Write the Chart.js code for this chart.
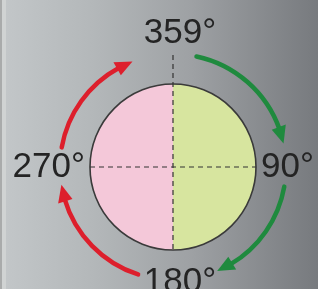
<!DOCTYPE html>
<html>
<head>
<meta charset="utf-8">
<script src="https://cdn.jsdelivr.net/npm/chart.js@4"></script>
<style>
  html, body { margin: 0; padding: 0; background: #a4a6a8; }
  #wrap { width: 318px; height: 289px; position: relative; }
</style>
</head>
<body>
<div id="wrap"><canvas id="dial" width="318" height="289"></canvas></div>
<script>
// Two halves of the dial, clockwise from the top
const halfLabels = ['0°–180°', '180°–359°'];
const halfValues = [180, 180];
const halfColors = ['#d7e59f', '#f4c8d9'];

// Bearings written round the dial
const bearingLabels = ['359°', '90°', '180°', '270°'];
const bearingAngles = [0, 90, 180, 270];

// Clockwise arrows, as bearing ranges [from, to]
const greenArrows = [[12, 78], [100, 157]];
const redArrows = [[198, 261], [280, 339]];

function toCanvasAngle(bearing) {
  return (bearing - 90) * Math.PI / 180;
}

const dialPlugin = {
  id: 'dial',
  beforeDraw(chart) {
    const { ctx, width, height } = chart;
    const g = ctx.createLinearGradient(0, 0, width, 0);
    g.addColorStop(0, '#c3c7c9');
    g.addColorStop(0.3, '#b3b7b9');
    g.addColorStop(0.6, '#9ea1a4');
    g.addColorStop(1, '#777a7e');
    ctx.save();
    ctx.fillStyle = g;
    ctx.fillRect(0, 0, width, height);
    // pale strip on the left edge
    ctx.fillStyle = '#a9abab';
    ctx.fillRect(0, 0, 2, height);
    ctx.fillStyle = '#d0d3d3';
    ctx.fillRect(2, 0, 4, height);
    ctx.restore();
  },
  afterDatasetsDraw(chart) {
    const { ctx } = chart;
    const arc = chart.getDatasetMeta(0).data[0];
    const cx = arc.x, cy = arc.y, r = arc.outerRadius;

    ctx.save();
    // outline
    ctx.beginPath();
    ctx.arc(cx, cy, r, 0, Math.PI * 2);
    ctx.strokeStyle = '#3a3a3a';
    ctx.lineWidth = 1.6;
    ctx.stroke();

    // dashed cross
    ctx.setLineDash([5, 4]);
    ctx.lineWidth = 1.2;
    ctx.strokeStyle = '#333';
    ctx.beginPath();
    ctx.moveTo(cx, cy - r - 29);
    ctx.lineTo(cx, cy + r);
    ctx.moveTo(cx - r, cy);
    ctx.lineTo(cx + r, cy);
    ctx.stroke();
    ctx.setLineDash([]);

    // arrows
    const R = r + 30;
    const head = 17, halfW = 7.5;
    const drawArrow = (range, color) => {
      const a0 = toCanvasAngle(range[0]);
      const a1 = toCanvasAngle(range[1]);
      const aBase = a1 - head / R;
      ctx.strokeStyle = color;
      ctx.fillStyle = color;
      ctx.lineWidth = 4.5;
      ctx.lineCap = 'round';
      ctx.beginPath();
      ctx.arc(cx, cy, R, a0, aBase + 0.02);
      ctx.stroke();
      const tx = cx + R * Math.cos(a1), ty = cy + R * Math.sin(a1);
      const bx = cx + R * Math.cos(aBase), by = cy + R * Math.sin(aBase);
      const nx = Math.cos(aBase), ny = Math.sin(aBase);
      ctx.beginPath();
      ctx.moveTo(tx, ty);
      ctx.lineTo(bx + nx * halfW, by + ny * halfW);
      ctx.lineTo(bx - nx * halfW, by - ny * halfW);
      ctx.closePath();
      ctx.fill();
    };
    greenArrows.forEach(a => drawArrow(a, '#1f8a3e'));
    redArrows.forEach(a => drawArrow(a, '#dd1f2c'));

    // bearing labels
    ctx.font = '35px "Liberation Sans", Arial, sans-serif';
    ctx.fillStyle = '#242424';
    const degW = ctx.measureText('°').width;
    bearingLabels.forEach((txt, i) => {
      const b = bearingAngles[i];
      if (b === 0) {
        ctx.textAlign = 'center';
        ctx.textBaseline = 'alphabetic';
        ctx.fillText(txt, cx + degW / 2, cy - r - 41);
      } else if (b === 90) {
        ctx.textAlign = 'left';
        ctx.textBaseline = 'middle';
        ctx.fillText(txt, cx + r + 5, cy);
      } else if (b === 180) {
        ctx.textAlign = 'center';
        ctx.textBaseline = 'top';
        ctx.fillText(txt, cx + degW / 2, cy + r + 15);
      } else {
        ctx.textAlign = 'right';
        ctx.textBaseline = 'middle';
        ctx.fillText(txt, cx - r - 5, cy);
      }
    });
    ctx.restore();
  }
};

new Chart(document.getElementById('dial'), {
  type: 'pie',
  data: {
    labels: halfLabels,
    datasets: [{
      data: halfValues,
      backgroundColor: halfColors,
      borderWidth: 0,
    }],
  },
  options: {
    responsive: false,
    animation: false,
    layout: { padding: { left: 90, right: 62, top: 84, bottom: 39 } },
    plugins: {
      legend: { display: false },
      tooltip: { enabled: false },
    },
  },
  plugins: [dialPlugin],
});
</script>
</body>
</html>
